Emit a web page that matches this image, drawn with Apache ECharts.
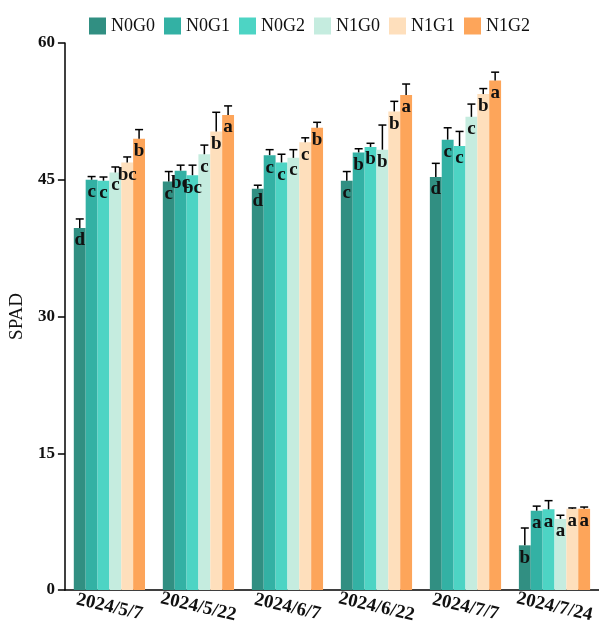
<!DOCTYPE html>
<html><head><meta charset="utf-8">
<script src="https://cdn.jsdelivr.net/npm/echarts@6/dist/echarts.min.js"></script>
<style>html,body{margin:0;padding:0;background:#fff}#c{width:599px;height:628px}</style>
</head><body><div id="c"></div>
<script>
const categories = ['2024/5/7','2024/5/22','2024/6/7','2024/6/22','2024/7/7','2024/7/24'];
const seriesNames = ['N0G0','N0G1','N0G2','N1G0','N1G1','N1G2'];
const colors = ['#318f82','#33b1a4','#4dd4c4','#c5ecdf','#fedfbc','#fda55a'];
const N0G0 = [39.7, 44.8, 44.0, 44.9, 45.3, 4.9];
const N0G1 = [45.0, 46.0, 47.7, 48.0, 49.4, 8.7];
const N0G2 = [44.9, 45.5, 46.9, 48.6, 48.7, 8.85];
const N1G0 = [45.8, 47.8, 47.4, 48.3, 51.9, 7.8];
const N1G1 = [46.9, 50.3, 49.1, 52.5, 54.4, 8.9];
const N1G2 = [49.5, 52.1, 50.7, 54.3, 55.9, 8.9];
const err_N0G0 = [1.0, 1.1, 0.4, 1.0, 1.5, 1.9];
const err_N0G1 = [0.35, 0.6, 0.6, 0.4, 1.3, 0.5];
const err_N0G2 = [0.4, 1.1, 0.9, 0.4, 1.6, 0.95];
const err_N1G0 = [0.6, 1.0, 0.9, 2.7, 1.4, 0.4];
const err_N1G1 = [0.6, 2.1, 0.5, 1.1, 0.6, 0.1];
const err_N1G2 = [1.0, 1.0, 0.6, 1.2, 0.9, 0.2];
const let_N0G0 = ['d','c','d','c','d','b'];
const let_N0G1 = ['c','bc','c','b','c','a'];
const let_N0G2 = ['c','bc','c','b','c','a'];
const let_N1G0 = ['c','c','c','b','c','a'];
const let_N1G1 = ['bc','b','c','b','b','a'];
const let_N1G2 = ['b','a','b','a','a','a'];
const yTicks = [0, 15, 30, 45, 60];

const values = [N0G0,N0G1,N0G2,N1G0,N1G1,N1G2];
const errs = [err_N0G0,err_N0G1,err_N0G2,err_N1G0,err_N1G1,err_N1G2];
const lets = [let_N0G0,let_N0G1,let_N0G2,let_N1G0,let_N1G1,let_N1G2];
const FONT = '"Liberation Serif","Times New Roman",serif';
const GAP = 0.2;

const series = [];
values.forEach((vals, s) => {
  series.push({
    name: seriesNames[s], type: 'bar', barGap: '0%', barCategoryGap: (GAP*100)+'%',
    itemStyle: {color: colors[s]},
    data: vals,
    label: {show: true, position: 'insideTop', distance: 3,
      formatter: p => lets[s][p.dataIndex],
      fontFamily: FONT, fontWeight: 'bold', fontSize: 19, color: '#111'},
    z: 2
  });
});
const errData = [];
values.forEach((vals, s) => vals.forEach((v, i) => errData.push([i, v, errs[s][i], s])));
series.push({
  type: 'custom', name: 'err', z: 5, silent: true,
  encode: {x: 0, y: 1},
  data: errData,
  renderItem: (params, api) => {
    const cat = api.value(0), mean = api.value(1), e = api.value(2), s = api.value(3);
    const b = api.coord([cat, mean]);
    const t = api.coord([cat, mean + e]);
    const catW = api.size([1, 0])[0];
    const bw = catW * (1 - GAP) / 6;
    const x = b[0] + (s - 2.5) * bw;
    const st = {stroke: '#000', lineWidth: 1.5};
    return {type: 'group', children: [
      {type: 'line', shape: {x1: x, y1: b[1], x2: x, y2: t[1]}, style: st},
      {type: 'line', shape: {x1: x - 4, y1: t[1], x2: x + 4, y2: t[1]}, style: st}
    ]};
  }
});

const chart = echarts.init(document.getElementById('c'), null, {renderer: 'canvas'});
chart.setOption({
  animation: false,
  backgroundColor: '#fff',
  legend: {
    data: seriesNames, left: 84, top: 12, itemWidth: 17, itemHeight: 17, itemGap: 9,
    icon: 'rect',
    textStyle: {fontFamily: FONT, fontSize: 18, color: '#111'}
  },
  grid: {left: 63, top: 43, bottom: 38, width: 546, containLabel: false},
  xAxis: {
    type: 'category', data: categories,
    axisLine: {lineStyle: {color: '#000', width: 1.5}},
    axisTick: {alignWithLabel: true, length: 8, lineStyle: {color: '#000', width: 1.5}},
    axisLabel: {rotate: -13, align: 'center', margin: 17, fontFamily: FONT, fontWeight: 'bold', fontSize: 19, color: '#111', interval: 0},
  },
  yAxis: {
    type: 'value', min: 0, max: 60, interval: 15,
    name: 'SPAD', nameLocation: 'middle', nameGap: 37,
    nameTextStyle: {fontFamily: FONT, fontSize: 19, color: '#111'},
    axisLine: {show: true, lineStyle: {color: '#000', width: 1.5}},
    axisTick: {show: true, length: 7, lineStyle: {color: '#000', width: 1.5}},
    axisLabel: {fontFamily: FONT, fontWeight: 'bold', fontSize: 17, color: '#111', margin: 10},
    splitLine: {show: false}
  },
  series: series
});
</script></body></html>
